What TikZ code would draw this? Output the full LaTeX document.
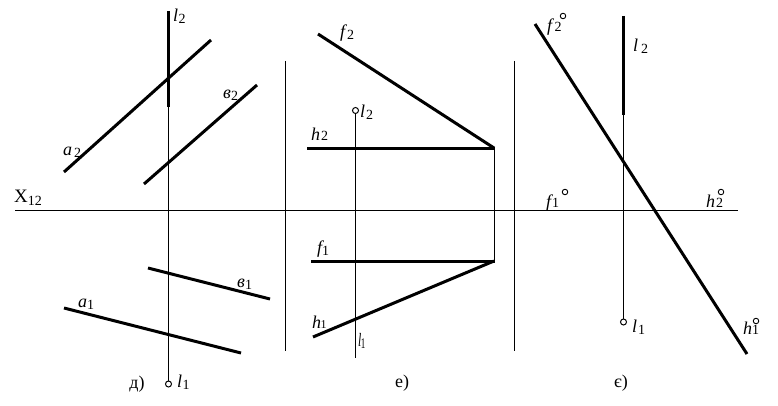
\documentclass[tikz,border=0pt]{standalone}
\usepackage{fontspec}
\usepackage{graphicx}
\setmainfont{Liberation Serif}
\newcommand{\lb}[2]{{\fontsize{18}{18}\selectfont\itshape #1\kern#2pt}}
\newcommand{\sbx}[2][-2]{{\fontsize{14}{14}\selectfont\raisebox{#1pt}{#2}}}
\tikzset{
  thinln/.style={line width=1pt,line cap=butt},
  thickln/.style={line width=3pt,line cap=butt},
  ring/.style={circle,draw,line width=1pt,fill=white,inner sep=0pt,minimum size=6pt},
  smallring/.style={circle,draw,line width=.9pt,inner sep=0pt,minimum size=5.5pt},
  lab/.style={inner sep=0pt,anchor=base west},
  captext/.style={inner sep=0pt,anchor=base,font=\fontsize{18}{18}\selectfont}
}
\begin{document}
\begin{tikzpicture}[x=1pt,y=-1pt]
\useasboundingbox (0,0) rectangle (778,406);
\fill[white] (0,0) rectangle (778,406);
% axis and separators
\draw[thinln] (15,210.5) -- (738,210.5);
\draw[thinln] (285.5,61) -- (285.5,351);
\draw[thinln] (514.5,61) -- (514.5,351);
% panel d
\draw[thinln] (168.5,107) -- (168.5,381);
\node[ring] (dl) at (168.5,384) {};
\draw[thickln] (168,11) -- (168,107);
\draw[thickln] (64,172) -- (211,40);
\draw[thickln] (144,184) -- (257,85);
\draw[thickln] (148,268) -- (270,299);
\draw[thickln] (64,308) -- (241,353);
\node[lab] at (173,22) {\lb{l}{0.5}\sbx{2}};
\node[lab] at (63,156) {\lb{a}{2}\sbx{2}};
\node[lab] at (223,99) {\lb{в}{0}\sbx{2}};
\node[lab] at (237,287) {\lb{в}{0}\sbx{1}};
\node[lab] at (78,307) {\lb{a}{0}\sbx{1}};
\node[lab] at (177,387) {\lb{l}{0.5}\sbx{1}};
\node[lab] at (14,202) {{\fontsize{19}{19}\selectfont X}\sbx[-3]{12}};
\node[captext] at (137,388) {д)};
% panel e
\draw[thinln] (355.5,113) -- (355.5,358);
\node[ring] (el) at (355.5,110.5) {};
\draw[thinln] (494.5,148) -- (494.5,261);
\draw[thickln] (318,34) -- (494,148);
\draw[thickln] (307,148.5) -- (495,148.5);
\draw[thickln] (311,261) -- (495,261);
\draw[thickln] (313,337) -- (494,261);
\node[lab] at (340,38) {\lb{f}{2}\sbx{2}};
\node[lab] at (360,118) {\lb{l}{1}\sbx{2}};
\node[lab] at (311,141) {\lb{h}{1}\sbx[0]{2}};
\node[lab] at (317,253) {\lb{f}{0}\sbx{1}};
\node[lab] at (312,328) {\lb{h}{-0.5}{\fontsize{12}{12}\selectfont 1}};
\node[lab] at (358,346) {\scalebox{0.65}[1.05]{\lb{l}{-1}\sbx{1}}};
\node[captext] at (402,387) {е)};
% panel ye
\draw[thinln] (623.5,115) -- (623.5,319);
\node[ring] (yl) at (623.5,322) {};
\draw[thickln] (623,16) -- (623,115);
\draw[thickln] (535,24) -- (747,354);
\node[lab] at (547,32) {\lb{f}{2.5}\sbx[0]{2}};
\node[smallring] at (563,16) {};
\node[lab] at (633,52) {\lb{l}{3}\sbx{2}};
\node[lab] at (546,207) {\lb{f}{1}\sbx[0]{1}};
\node[smallring] at (565,192) {};
\node[lab] at (706,207) {\lb{h}{1}\sbx[0]{2}};
\node[smallring] at (721,192) {};
\node[lab] at (743,334) {\lb{h}{0}\sbx[0]{1}};
\node[smallring] at (756,321) {};
\node[lab] at (632,332) {\lb{l}{1}\sbx{1}};
\node[captext] at (621,387) {є)};
\end{tikzpicture}
\end{document}
